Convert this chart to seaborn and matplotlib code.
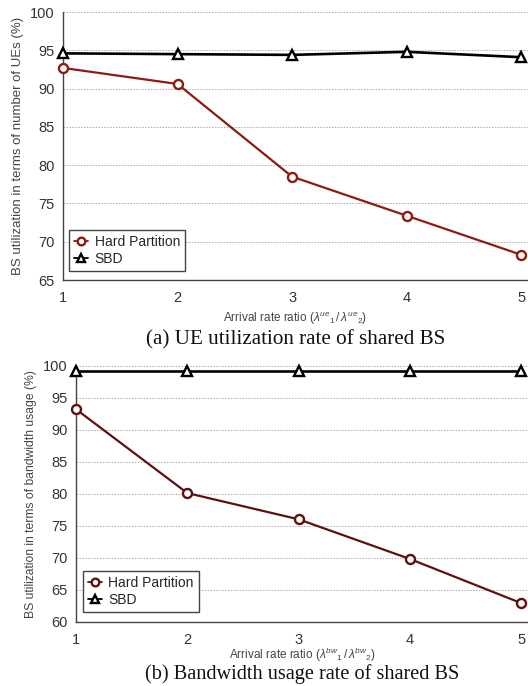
import matplotlib
matplotlib.use("Agg")
import matplotlib.pyplot as plt
import seaborn as sns
import pandas as pd

# Arrival rate ratios on the x axis
ratios = [1, 2, 3, 4, 5]

# (a) UE utilization (%)
ue_hard = [92.7, 90.6, 78.5, 73.4, 68.3]
ue_sbd = [94.6, 94.5, 94.4, 94.8, 94.1]

# (b) Bandwidth utilization (%)
bw_hard = [93.2, 80.1, 76.0, 69.8, 62.9]
bw_sbd = [99.2, 99.2, 99.2, 99.2, 99.2]

series_names = ["Hard Partition", "SBD"]

sns.set_theme(style="white")
plt.rcParams["font.family"] = ["Liberation Sans", "DejaVu Sans"]
plt.rcParams["mathtext.fontset"] = "custom"
plt.rcParams["mathtext.rm"] = "Liberation Sans"
plt.rcParams["mathtext.it"] = "Liberation Sans:italic"

fig = plt.figure(figsize=(5.28, 6.86), dpi=100)
ax1 = fig.add_axes([0.1193, 0.5918, 0.8807, 0.3907])
ax2 = fig.add_axes([0.1439, 0.0937, 0.8561, 0.3732])


def long_frame(hard, sbd):
    return pd.DataFrame({
        "ratio": ratios * 2,
        "value": hard + sbd,
        "scheme": [series_names[0]] * len(ratios) + [series_names[1]] * len(ratios),
    })


def draw(ax, hard, sbd, red, ylim, yticks, ylabel, ylabel_size, xlabel, xlabel_pad,
         caption, caption_y, caption_size, legend_box):
    df = long_frame(hard, sbd)
    sns.lineplot(
        data=df, x="ratio", y="value", hue="scheme", style="scheme",
        palette={series_names[0]: red, series_names[1]: "black"},
        markers={series_names[0]: "o", series_names[1]: "^"},
        dashes=False, linewidth=1.6, markersize=6.5,
        markerfacecolor="white", markeredgewidth=1.7,
        ax=ax, legend=True, clip_on=False, zorder=3,
    )
    # marker edges follow line colours
    for line, col, lw in zip(ax.get_lines(), [red, "black"], [1.6, 1.9]):
        line.set_markeredgecolor(col)
        line.set_markerfacecolor("white")
        line.set_linewidth(lw)

    ax.set_xlim(1, 5.06)
    ax.set_ylim(*ylim)
    ax.set_xticks(ratios)
    ax.set_yticks(yticks)
    ax.tick_params(axis="both", labelsize=10.5, length=0, colors="#333333")
    ax.tick_params(axis="x", pad=8)
    ax.tick_params(axis="y", pad=6)
    ax.yaxis.grid(True, linestyle=(0, (1.5, 1.5)), color="#aaaaaa", linewidth=0.7)
    ax.set_axisbelow(True)
    for side in ("top", "right"):
        ax.spines[side].set_visible(False)
    for side in ("left", "bottom"):
        ax.spines[side].set_color("#444444")
        ax.spines[side].set_linewidth(1.0)
    ax.set_ylabel(ylabel, fontsize=ylabel_size, color="#444444", labelpad=4)
    ax.set_xlabel(xlabel, fontsize=8.5, color="#444444", labelpad=xlabel_pad)

    handles, labels = ax.get_legend_handles_labels()
    for h, col in zip(handles, [red, "black"]):
        h.set_markeredgecolor(col)
        h.set_markerfacecolor("white")
        h.set_markersize(5.5)
        h.set_markeredgewidth(1.7)
        h.set_linewidth(1.3)
    leg = ax.legend(handles, labels, loc="lower left", bbox_to_anchor=legend_box,
                    borderaxespad=0, fontsize=10, frameon=True, fancybox=False,
                    edgecolor="#444444", handlelength=1.0, handletextpad=0.5,
                    borderpad=0.35, labelspacing=0.25, framealpha=1)
    leg.get_frame().set_linewidth(1.0)

    ax.text(0.5, caption_y, caption, transform=ax.transAxes, ha="center",
            va="center", fontsize=caption_size, family="Liberation Serif",
            color="#111111")


draw(ax1, ue_hard, ue_sbd, "#8c1b10", (65, 100), [65, 70, 75, 80, 85, 90, 95, 100],
     "BS utilization in terms of number of UEs (%)", 9.5,
     r"Arrival rate ratio (${\lambda^{ue}}_1\,/\,{\lambda^{ue}}_2$)", 3.5,
     "(a) UE utilization rate of shared BS", -0.222, 15.2, (0.013, 0.034))

draw(ax2, bw_hard, bw_sbd, "#5e1010", (60, 100), [60, 65, 70, 75, 80, 85, 90, 95, 100],
     "BS utilization in terms of bandwidth usage (%)", 8.7,
     r"Arrival rate ratio (${\lambda^{bw}}_1\,/\,{\lambda^{bw}}_2$)", -1.0,
     "(b) Bandwidth usage rate of shared BS", -0.205, 14.6, (0.015, 0.038))

fig.savefig("out.png", dpi=100)
